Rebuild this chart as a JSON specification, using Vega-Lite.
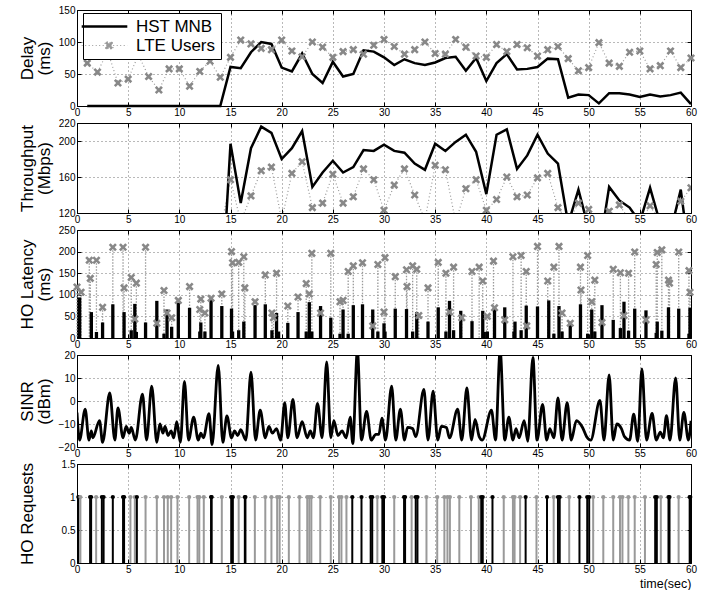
{
  "$schema": "https://vega.github.io/schema/vega-lite/v6.json",
  "background": "white",
  "padding": {"left": 17, "top": 4, "right": 5, "bottom": 0},
  "spacing": 17,
  "bounds": "flush",
  "config": {
    "font": "Liberation Sans",
    "view": {"stroke": "#000", "strokeWidth": 1},
    "axis": {"domain": false, "labelFont": "Liberation Sans", "labelFontSize": 10, "labelColor": "#000", "labelFlush": false, "labelOverlap": false, "tickColor": "#000", "tickSize": -4, "tickWidth": 1, "gridColor": "#000", "gridDash": [1, 3], "gridOpacity": 0.55, "gridWidth": 1, "titleFont": "Liberation Sans", "titleFontSize": 17, "titleFontWeight": "normal", "titleColor": "#000", "titleLineHeight": 17},
    "axisX": {"labelPadding": 5},
    "axisY": {"labelPadding": 6}
  },
  "datasets": {
    "delay": [
      {"t":1,"v":0,"s":"H"},{"t":2,"v":0,"s":"H"},{"t":3,"v":0,"s":"H"},{"t":4,"v":0,"s":"H"},{"t":5,"v":0,"s":"H"},{"t":6,"v":0,"s":"H"},{"t":7,"v":0,"s":"H"},{"t":8,"v":0,"s":"H"},{"t":9,"v":0,"s":"H"},{"t":10,"v":0,"s":"H"},{"t":11,"v":0,"s":"H"},{"t":12,"v":0,"s":"H"},{"t":13,"v":0,"s":"H"},{"t":14,"v":0,"s":"H"},
      {"t":15,"v":61,"s":"H"},{"t":16,"v":59,"s":"H"},{"t":17,"v":84,"s":"H"},{"t":18,"v":100,"s":"H"},{"t":19,"v":97,"s":"H"},{"t":20,"v":60,"s":"H"},{"t":21,"v":54,"s":"H"},{"t":22,"v":82,"s":"H"},{"t":23,"v":50,"s":"H"},{"t":24,"v":36,"s":"H"},{"t":25,"v":69,"s":"H"},{"t":26,"v":46,"s":"H"},{"t":27,"v":50,"s":"H"},{"t":28,"v":87,"s":"H"},{"t":29,"v":85,"s":"H"},{"t":30,"v":76,"s":"H"},{"t":31,"v":64,"s":"H"},{"t":32,"v":73,"s":"H"},{"t":33,"v":67,"s":"H"},{"t":34,"v":64,"s":"H"},{"t":35,"v":68,"s":"H"},{"t":36,"v":75,"s":"H"},{"t":37,"v":77,"s":"H"},{"t":38,"v":55,"s":"H"},{"t":39,"v":75,"s":"H"},{"t":40,"v":39,"s":"H"},{"t":41,"v":67,"s":"H"},{"t":42,"v":81,"s":"H"},{"t":43,"v":57,"s":"H"},{"t":44,"v":58,"s":"H"},{"t":45,"v":61,"s":"H"},{"t":46,"v":74,"s":"H"},{"t":47,"v":73,"s":"H"},{"t":48,"v":13,"s":"H"},{"t":49,"v":18,"s":"H"},{"t":50,"v":17,"s":"H"},{"t":51,"v":4,"s":"H"},{"t":52,"v":20,"s":"H"},{"t":53,"v":20,"s":"H"},{"t":54,"v":18,"s":"H"},{"t":55,"v":14,"s":"H"},{"t":56,"v":18,"s":"H"},{"t":57,"v":15,"s":"H"},{"t":58,"v":17,"s":"H"},{"t":59,"v":21,"s":"H"},{"t":60,"v":3,"s":"H"},
      {"t":1,"v":67,"s":"L"},{"t":2,"v":53,"s":"L"},{"t":3,"v":85,"s":"L"},{"t":4,"v":36,"s":"L"},{"t":5,"v":42,"s":"L"},{"t":6,"v":80,"s":"L"},{"t":7,"v":46,"s":"L"},{"t":8,"v":25,"s":"L"},{"t":9,"v":58,"s":"L"},{"t":10,"v":58,"s":"L"},{"t":11,"v":31,"s":"L"},{"t":12,"v":54,"s":"L"},{"t":13,"v":70,"s":"L"},{"t":14,"v":45,"s":"L"},{"t":15,"v":76,"s":"L"},{"t":16,"v":103,"s":"L"},{"t":17,"v":97,"s":"L"},{"t":18,"v":90,"s":"L"},{"t":19,"v":88,"s":"L"},{"t":20,"v":103,"s":"L"},{"t":21,"v":86,"s":"L"},{"t":22,"v":77,"s":"L"},{"t":23,"v":100,"s":"L"},{"t":24,"v":92,"s":"L"},{"t":25,"v":76,"s":"L"},{"t":26,"v":85,"s":"L"},{"t":27,"v":88,"s":"L"},{"t":28,"v":81,"s":"L"},{"t":29,"v":95,"s":"L"},{"t":30,"v":104,"s":"L"},{"t":31,"v":93,"s":"L"},{"t":32,"v":81,"s":"L"},{"t":33,"v":88,"s":"L"},{"t":34,"v":100,"s":"L"},{"t":35,"v":82,"s":"L"},{"t":36,"v":81,"s":"L"},{"t":37,"v":104,"s":"L"},{"t":38,"v":92,"s":"L"},{"t":39,"v":78,"s":"L"},{"t":40,"v":76,"s":"L"},{"t":41,"v":96,"s":"L"},{"t":42,"v":85,"s":"L"},{"t":43,"v":96,"s":"L"},{"t":44,"v":91,"s":"L"},{"t":45,"v":78,"s":"L"},{"t":46,"v":88,"s":"L"},{"t":47,"v":93,"s":"L"},{"t":48,"v":74,"s":"L"},{"t":49,"v":55,"s":"L"},{"t":50,"v":60,"s":"L"},{"t":51,"v":99,"s":"L"},{"t":52,"v":67,"s":"L"},{"t":53,"v":62,"s":"L"},{"t":54,"v":84,"s":"L"},{"t":55,"v":86,"s":"L"},{"t":56,"v":58,"s":"L"},{"t":57,"v":63,"s":"L"},{"t":58,"v":86,"s":"L"},{"t":59,"v":60,"s":"L"},{"t":60,"v":75,"s":"L"}
    ],
    "thr": [
      {"t":14,"v":0,"s":"H"},{"t":15,"v":197,"s":"H"},{"t":16,"v":131,"s":"H"},{"t":17,"v":192,"s":"H"},{"t":18,"v":216,"s":"H"},{"t":19,"v":209,"s":"H"},{"t":20,"v":180,"s":"H"},{"t":21,"v":192,"s":"H"},{"t":22,"v":211,"s":"H"},{"t":23,"v":149,"s":"H"},{"t":24,"v":165,"s":"H"},{"t":25,"v":178,"s":"H"},{"t":26,"v":165,"s":"H"},{"t":27,"v":171,"s":"H"},{"t":28,"v":190,"s":"H"},{"t":29,"v":189,"s":"H"},{"t":30,"v":196,"s":"H"},{"t":31,"v":189,"s":"H"},{"t":32,"v":187,"s":"H"},{"t":33,"v":175,"s":"H"},{"t":34,"v":168,"s":"H"},{"t":35,"v":197,"s":"H"},{"t":36,"v":189,"s":"H"},{"t":37,"v":199,"s":"H"},{"t":38,"v":207,"s":"H"},{"t":39,"v":188,"s":"H"},{"t":40,"v":141,"s":"H"},{"t":41,"v":207,"s":"H"},{"t":42,"v":213,"s":"H"},{"t":43,"v":169,"s":"H"},{"t":44,"v":184,"s":"H"},{"t":45,"v":207,"s":"H"},{"t":46,"v":186,"s":"H"},{"t":47,"v":175,"s":"H"},{"t":48,"v":108,"s":"H"},{"t":49,"v":146,"s":"H"},{"t":50,"v":102,"s":"H"},{"t":51,"v":76,"s":"H"},{"t":52,"v":149,"s":"H"},{"t":53,"v":134,"s":"H"},{"t":54,"v":126,"s":"H"},{"t":55,"v":110,"s":"H"},{"t":56,"v":148,"s":"H"},{"t":57,"v":108,"s":"H"},{"t":58,"v":99,"s":"H"},{"t":59,"v":146,"s":"H"},{"t":60,"v":59,"s":"H"},
      {"t":14,"v":100,"s":"L"},{"t":15,"v":157,"s":"L"},{"t":16,"v":110,"s":"L"},{"t":17,"v":139,"s":"L"},{"t":18,"v":167,"s":"L"},{"t":19,"v":171,"s":"L"},{"t":20,"v":112,"s":"L"},{"t":21,"v":164,"s":"L"},{"t":22,"v":177,"s":"L"},{"t":23,"v":126,"s":"L"},{"t":24,"v":131,"s":"L"},{"t":25,"v":163,"s":"L"},{"t":26,"v":131,"s":"L"},{"t":27,"v":138,"s":"L"},{"t":28,"v":169,"s":"L"},{"t":29,"v":157,"s":"L"},{"t":30,"v":123,"s":"L"},{"t":31,"v":151,"s":"L"},{"t":32,"v":169,"s":"L"},{"t":33,"v":140,"s":"L"},{"t":34,"v":112,"s":"L"},{"t":35,"v":173,"s":"L"},{"t":36,"v":168,"s":"L"},{"t":37,"v":110,"s":"L"},{"t":38,"v":147,"s":"L"},{"t":39,"v":157,"s":"L"},{"t":40,"v":123,"s":"L"},{"t":41,"v":135,"s":"L"},{"t":42,"v":160,"s":"L"},{"t":43,"v":138,"s":"L"},{"t":44,"v":140,"s":"L"},{"t":45,"v":159,"s":"L"},{"t":46,"v":164,"s":"L"},{"t":47,"v":126,"s":"L"},{"t":48,"v":110,"s":"L"},{"t":49,"v":131,"s":"L"},{"t":50,"v":124,"s":"L"},{"t":51,"v":110,"s":"L"},{"t":52,"v":122,"s":"L"},{"t":53,"v":129,"s":"L"},{"t":54,"v":112,"s":"L"},{"t":55,"v":108,"s":"L"},{"t":56,"v":128,"s":"L"},{"t":57,"v":110,"s":"L"},{"t":58,"v":112,"s":"L"},{"t":59,"v":133,"s":"L"},{"t":60,"v":148,"s":"L"}
    ],
    "lat": [
      {"t":0.26,"v":94,"s":"B"},{"t":1.4,"v":60,"s":"B"},{"t":1.9,"v":14,"s":"B"},{"t":2.5,"v":36,"s":"B"},{"t":3.5,"v":78,"s":"B"},{"t":4.6,"v":60,"s":"B"},{"t":5.3,"v":18,"s":"B"},{"t":5.65,"v":79,"s":"B"},{"t":5.8,"v":14,"s":"B"},{"t":6.7,"v":36,"s":"B"},{"t":7.8,"v":86,"s":"B"},{"t":8.5,"v":10,"s":"B"},{"t":8.8,"v":66,"s":"B"},{"t":9.25,"v":26,"s":"B"},{"t":9.9,"v":82,"s":"B"},{"t":11.0,"v":70,"s":"B"},{"t":12.0,"v":15,"s":"B"},{"t":12.1,"v":36,"s":"B"},{"t":12.5,"v":15,"s":"B"},{"t":13.1,"v":92,"s":"B"},{"t":14.15,"v":74,"s":"B"},{"t":15.1,"v":68,"s":"B"},{"t":15.2,"v":15,"s":"B"},{"t":15.8,"v":18,"s":"B"},{"t":16.3,"v":38,"s":"B"},{"t":17.4,"v":76,"s":"B"},{"t":18.4,"v":78,"s":"B"},{"t":19.05,"v":18,"s":"B"},{"t":19.5,"v":58,"s":"B"},{"t":19.7,"v":15,"s":"B"},{"t":20.6,"v":35,"s":"B"},{"t":21.6,"v":60,"s":"B"},{"t":22.4,"v":15,"s":"B"},{"t":22.7,"v":83,"s":"B"},{"t":22.95,"v":15,"s":"B"},{"t":23.8,"v":74,"s":"B"},{"t":24.8,"v":47,"s":"B"},{"t":25.7,"v":10,"s":"B"},{"t":26.0,"v":66,"s":"B"},{"t":26.5,"v":10,"s":"B"},{"t":27.0,"v":76,"s":"B"},{"t":27.9,"v":78,"s":"B"},{"t":28.9,"v":66,"s":"B"},{"t":29.4,"v":15,"s":"B"},{"t":30.0,"v":34,"s":"B"},{"t":30.1,"v":15,"s":"B"},{"t":31.1,"v":68,"s":"B"},{"t":32.2,"v":67,"s":"B"},{"t":32.8,"v":15,"s":"B"},{"t":33.2,"v":60,"s":"B"},{"t":34.3,"v":38,"s":"B"},{"t":35.3,"v":71,"s":"B"},{"t":36.05,"v":15,"s":"B"},{"t":36.4,"v":86,"s":"B"},{"t":36.8,"v":18,"s":"B"},{"t":37.5,"v":63,"s":"B"},{"t":38.6,"v":39,"s":"B"},{"t":39.65,"v":63,"s":"B"},{"t":39.8,"v":14,"s":"B"},{"t":40.1,"v":15,"s":"B"},{"t":40.8,"v":71,"s":"B"},{"t":41.8,"v":71,"s":"B"},{"t":42.7,"v":15,"s":"B"},{"t":42.8,"v":38,"s":"B"},{"t":43.4,"v":18,"s":"B"},{"t":43.9,"v":75,"s":"B"},{"t":45.0,"v":73,"s":"B"},{"t":46.1,"v":87,"s":"B"},{"t":46.6,"v":10,"s":"B"},{"t":47.1,"v":74,"s":"B"},{"t":47.4,"v":15,"s":"B"},{"t":48.2,"v":38,"s":"B"},{"t":49.2,"v":78,"s":"B"},{"t":49.9,"v":10,"s":"B"},{"t":50.3,"v":66,"s":"B"},{"t":50.6,"v":15,"s":"B"},{"t":51.3,"v":76,"s":"B"},{"t":52.4,"v":42,"s":"B"},{"t":53.1,"v":23,"s":"B"},{"t":53.45,"v":84,"s":"B"},{"t":53.9,"v":17,"s":"B"},{"t":54.5,"v":68,"s":"B"},{"t":55.6,"v":64,"s":"B"},{"t":56.6,"v":12,"s":"B"},{"t":56.7,"v":38,"s":"B"},{"t":57.15,"v":17,"s":"B"},{"t":57.8,"v":71,"s":"B"},{"t":58.8,"v":68,"s":"B"},{"t":59.8,"v":10,"s":"B"},{"t":59.9,"v":70,"s":"B"},
      {"t":0.0,"v":118,"s":"G"},{"t":0.4,"v":106,"s":"G"},{"t":1.2,"v":180,"s":"G"},{"t":1.3,"v":138,"s":"G"},{"t":1.9,"v":180,"s":"G"},{"t":2.5,"v":71,"s":"G"},{"t":3.5,"v":210,"s":"G"},{"t":4.5,"v":210,"s":"G"},{"t":4.6,"v":116,"s":"G"},{"t":5.3,"v":140,"s":"G"},{"t":5.65,"v":44,"s":"G"},{"t":5.8,"v":127,"s":"G"},{"t":6.7,"v":210,"s":"G"},{"t":7.8,"v":34,"s":"G"},{"t":8.5,"v":110,"s":"G"},{"t":8.8,"v":58,"s":"G"},{"t":9.25,"v":47,"s":"G"},{"t":9.9,"v":87,"s":"G"},{"t":11.0,"v":119,"s":"G"},{"t":12.0,"v":66,"s":"G"},{"t":12.1,"v":90,"s":"G"},{"t":12.5,"v":58,"s":"G"},{"t":13.1,"v":92,"s":"G"},{"t":14.15,"v":102,"s":"G"},{"t":15.1,"v":200,"s":"G"},{"t":15.2,"v":174,"s":"G"},{"t":15.8,"v":175,"s":"G"},{"t":16.3,"v":188,"s":"G"},{"t":16.4,"v":116,"s":"G"},{"t":17.4,"v":84,"s":"G"},{"t":18.4,"v":146,"s":"G"},{"t":19.05,"v":58,"s":"G"},{"t":19.2,"v":47,"s":"G"},{"t":19.5,"v":150,"s":"G"},{"t":20.6,"v":74,"s":"G"},{"t":21.6,"v":95,"s":"G"},{"t":22.4,"v":126,"s":"G"},{"t":22.7,"v":102,"s":"G"},{"t":22.95,"v":196,"s":"G"},{"t":23.8,"v":58,"s":"G"},{"t":24.8,"v":196,"s":"G"},{"t":25.7,"v":84,"s":"G"},{"t":26.0,"v":87,"s":"G"},{"t":26.5,"v":154,"s":"G"},{"t":27.0,"v":167,"s":"G"},{"t":27.9,"v":174,"s":"G"},{"t":28.9,"v":28,"s":"G"},{"t":29.4,"v":170,"s":"G"},{"t":30.0,"v":60,"s":"G"},{"t":30.1,"v":186,"s":"G"},{"t":31.1,"v":142,"s":"G"},{"t":32.2,"v":158,"s":"G"},{"t":32.25,"v":119,"s":"G"},{"t":32.8,"v":167,"s":"G"},{"t":33.2,"v":159,"s":"G"},{"t":33.4,"v":52,"s":"G"},{"t":34.3,"v":116,"s":"G"},{"t":35.3,"v":175,"s":"G"},{"t":36.05,"v":150,"s":"G"},{"t":36.4,"v":60,"s":"G"},{"t":36.8,"v":164,"s":"G"},{"t":37.6,"v":47,"s":"G"},{"t":38.6,"v":154,"s":"G"},{"t":39.3,"v":164,"s":"G"},{"t":39.65,"v":132,"s":"G"},{"t":40.1,"v":50,"s":"G"},{"t":40.7,"v":178,"s":"G"},{"t":40.8,"v":70,"s":"G"},{"t":41.8,"v":42,"s":"G"},{"t":42.6,"v":188,"s":"G"},{"t":43.4,"v":191,"s":"G"},{"t":43.9,"v":154,"s":"G"},{"t":43.95,"v":28,"s":"G"},{"t":45.0,"v":212,"s":"G"},{"t":46.0,"v":132,"s":"G"},{"t":46.6,"v":164,"s":"G"},{"t":47.1,"v":212,"s":"G"},{"t":47.4,"v":58,"s":"G"},{"t":48.2,"v":34,"s":"G"},{"t":49.2,"v":164,"s":"G"},{"t":49.25,"v":111,"s":"G"},{"t":49.9,"v":191,"s":"G"},{"t":50.3,"v":84,"s":"G"},{"t":50.6,"v":134,"s":"G"},{"t":51.3,"v":36,"s":"G"},{"t":52.4,"v":159,"s":"G"},{"t":53.1,"v":151,"s":"G"},{"t":53.45,"v":52,"s":"G"},{"t":53.9,"v":150,"s":"G"},{"t":54.5,"v":199,"s":"G"},{"t":55.6,"v":42,"s":"G"},{"t":56.6,"v":170,"s":"G"},{"t":56.7,"v":198,"s":"G"},{"t":57.15,"v":204,"s":"G"},{"t":57.8,"v":134,"s":"G"},{"t":57.9,"v":127,"s":"G"},{"t":58.8,"v":199,"s":"G"},{"t":59.8,"v":156,"s":"G"},{"t":59.9,"v":106,"s":"G"}
    ],
    "sinr": [
      {"t":0,"v":-5},{"t":0.25,"v":-17},{"t":0.8,"v":-3.5},{"t":1.17,"v":-17},{"t":1.4,"v":-13},{"t":1.55,"v":-16},{"t":2.2,"v":-8.5},{"t":2.5,"v":-18},{"t":3.2,"v":3.5},{"t":3.7,"v":-17},{"t":4.0,"v":-3},{"t":4.5,"v":-16},{"t":4.8,"v":-11},{"t":5.1,"v":-14},{"t":5.3,"v":-11.5},{"t":5.7,"v":-17},{"t":6.4,"v":3},{"t":6.8,"v":-17},{"t":7.3,"v":6.5},{"t":7.8,"v":-18},{"t":8.1,"v":-10},{"t":8.4,"v":-14},{"t":8.6,"v":-11},{"t":8.9,"v":-15},{"t":9.2,"v":-13},{"t":9.45,"v":-16},{"t":9.75,"v":-9},{"t":10.1,"v":-18},{"t":10.5,"v":8.5},{"t":10.9,"v":-17},{"t":11.4,"v":-7},{"t":11.85,"v":-17},{"t":12.1,"v":-14},{"t":12.35,"v":-16},{"t":12.9,"v":-5.5},{"t":13.2,"v":-19},{"t":13.8,"v":15.5},{"t":14.25,"v":-18},{"t":14.65,"v":-6.5},{"t":15.1,"v":-16},{"t":15.4,"v":-13},{"t":15.7,"v":-15},{"t":16.0,"v":-12.5},{"t":16.5,"v":-17},{"t":17.0,"v":12.5},{"t":17.45,"v":-17},{"t":17.9,"v":-4},{"t":18.4,"v":-16},{"t":18.75,"v":-11},{"t":19.1,"v":-14},{"t":19.5,"v":-12},{"t":19.9,"v":-17},{"t":20.3,"v":-0.7},{"t":20.6,"v":-16},{"t":21.1,"v":0.7},{"t":21.5,"v":-16},{"t":22.0,"v":-9},{"t":22.5,"v":-16},{"t":22.8,"v":-13},{"t":23.1,"v":-16},{"t":23.5,"v":-1},{"t":23.95,"v":-16},{"t":24.4,"v":17},{"t":24.8,"v":-16},{"t":25.1,"v":-8.5},{"t":25.5,"v":-15},{"t":25.9,"v":-13},{"t":26.3,"v":-16},{"t":26.7,"v":-7},{"t":26.95,"v":-18.5},{"t":27.4,"v":22},{"t":27.8,"v":-17},{"t":28.3,"v":-4.5},{"t":28.75,"v":-17},{"t":29.2,"v":-14.5},{"t":29.5,"v":-14.5},{"t":29.8,"v":-7.5},{"t":30.15,"v":-17},{"t":30.75,"v":6.5},{"t":31.15,"v":-17},{"t":31.6,"v":-3.5},{"t":32.0,"v":-17},{"t":32.3,"v":-11.5},{"t":32.8,"v":-12},{"t":33.1,"v":-15.5},{"t":33.9,"v":5},{"t":34.3,"v":-17},{"t":34.8,"v":4.3},{"t":35.25,"v":-17},{"t":35.6,"v":-11},{"t":36.1,"v":-11.5},{"t":36.4,"v":-16},{"t":37.2,"v":-3.5},{"t":37.6,"v":-17},{"t":38.1,"v":5.7},{"t":38.55,"v":-17},{"t":38.9,"v":-8},{"t":39.3,"v":-15.5},{"t":39.6,"v":-17},{"t":40.5,"v":-4},{"t":40.9,"v":-17},{"t":41.35,"v":22},{"t":41.8,"v":-17},{"t":42.2,"v":-7},{"t":42.6,"v":-17},{"t":42.9,"v":-12},{"t":43.2,"v":-16},{"t":43.7,"v":-8.5},{"t":44.05,"v":-17.5},{"t":44.55,"v":19},{"t":44.95,"v":-17},{"t":45.5,"v":-1.5},{"t":45.9,"v":-17},{"t":46.2,"v":-12},{"t":46.6,"v":-16},{"t":47.0,"v":1.4},{"t":47.4,"v":-17},{"t":47.9,"v":-0.7},{"t":48.3,"v":-17},{"t":48.8,"v":-8.5},{"t":49.4,"v":-11.5},{"t":49.8,"v":-15.5},{"t":50.2,"v":-17},{"t":51.1,"v":0.3},{"t":51.5,"v":-17},{"t":52.0,"v":11.4},{"t":52.4,"v":-17},{"t":52.75,"v":-10},{"t":53.2,"v":-12},{"t":53.5,"v":-15.5},{"t":54.0,"v":-17},{"t":54.4,"v":-5.7},{"t":54.8,"v":-17.5},{"t":55.2,"v":14},{"t":55.65,"v":-17},{"t":56.2,"v":-5.4},{"t":56.6,"v":-17},{"t":57.0,"v":-13.5},{"t":57.3,"v":-16},{"t":57.6,"v":-6.4},{"t":57.95,"v":-17},{"t":58.5,"v":10},{"t":58.9,"v":-17},{"t":59.3,"v":-5},{"t":59.75,"v":-17},{"t":60,"v":-8.6}
    ],
    "req": [
      {"t":0.13,"s":"B","v":1},{"t":0.33,"s":"G","v":1},{"t":1.28,"s":"B","v":1},{"t":1.38,"s":"B","v":1},{"t":1.87,"s":"G","v":1},{"t":2.43,"s":"B","v":1},{"t":2.6,"s":"B","v":1},{"t":3.5,"s":"B","v":1},{"t":4.5,"s":"B","v":1},{"t":4.6,"s":"B","v":1},{"t":5.22,"s":"G","v":1},{"t":5.65,"s":"G","v":1},{"t":5.85,"s":"B","v":1},{"t":6.7,"s":"G","v":1},{"t":7.8,"s":"G","v":1},{"t":8.5,"s":"G","v":1},{"t":8.87,"s":"G","v":1},{"t":9.2,"s":"G","v":1},{"t":9.82,"s":"G","v":1},{"t":10.96,"s":"G","v":1},{"t":11.78,"s":"G","v":1},{"t":11.95,"s":"G","v":1},{"t":12.39,"s":"G","v":1},{"t":13.1,"s":"B","v":1},{"t":13.16,"s":"B","v":1},{"t":14.15,"s":"G","v":1},{"t":15.07,"s":"B","v":1},{"t":15.23,"s":"B","v":1},{"t":15.8,"s":"G","v":1},{"t":16.4,"s":"B","v":1},{"t":16.46,"s":"B","v":1},{"t":17.38,"s":"G","v":1},{"t":18.4,"s":"G","v":1},{"t":19.0,"s":"G","v":1},{"t":19.56,"s":"G","v":1},{"t":19.8,"s":"G","v":1},{"t":20.7,"s":"G","v":1},{"t":21.74,"s":"G","v":1},{"t":22.5,"s":"G","v":1},{"t":22.7,"s":"G","v":1},{"t":22.9,"s":"G","v":1},{"t":23.77,"s":"G","v":1},{"t":24.8,"s":"G","v":1},{"t":25.6,"s":"G","v":1},{"t":25.84,"s":"G","v":1},{"t":26.33,"s":"G","v":1},{"t":26.9,"s":"B","v":1},{"t":27.8,"s":"B","v":1},{"t":28.7,"s":"B","v":1},{"t":28.85,"s":"B","v":1},{"t":29.35,"s":"G","v":1},{"t":29.84,"s":"B","v":1},{"t":30.0,"s":"B","v":1},{"t":31.0,"s":"G","v":1},{"t":31.96,"s":"B","v":1},{"t":32.06,"s":"B","v":1},{"t":32.7,"s":"G","v":1},{"t":33.1,"s":"B","v":1},{"t":33.27,"s":"B","v":1},{"t":34.15,"s":"G","v":1},{"t":35.2,"s":"G","v":1},{"t":35.9,"s":"G","v":1},{"t":36.2,"s":"G","v":1},{"t":36.44,"s":"G","v":1},{"t":37.36,"s":"G","v":1},{"t":38.5,"s":"G","v":1},{"t":39.26,"s":"G","v":1},{"t":39.5,"s":"B","v":1},{"t":39.65,"s":"B","v":1},{"t":40.6,"s":"B","v":1},{"t":41.7,"s":"G","v":1},{"t":42.6,"s":"G","v":1},{"t":42.76,"s":"G","v":1},{"t":43.3,"s":"G","v":1},{"t":43.84,"s":"B","v":1},{"t":44.9,"s":"G","v":1},{"t":45.93,"s":"B","v":1},{"t":46.58,"s":"G","v":1},{"t":47.0,"s":"B","v":1},{"t":47.17,"s":"B","v":1},{"t":48.1,"s":"G","v":1},{"t":49.1,"s":"B","v":1},{"t":49.86,"s":"B","v":1},{"t":50.05,"s":"B","v":1},{"t":50.44,"s":"G","v":1},{"t":51.43,"s":"G","v":1},{"t":52.4,"s":"G","v":1},{"t":53.06,"s":"G","v":1},{"t":53.3,"s":"G","v":1},{"t":53.88,"s":"G","v":1},{"t":54.5,"s":"G","v":1},{"t":55.5,"s":"G","v":1},{"t":56.5,"s":"B","v":1},{"t":56.66,"s":"B","v":1},{"t":57.05,"s":"G","v":1},{"t":57.8,"s":"B","v":1},{"t":57.9,"s":"B","v":1},{"t":58.79,"s":"G","v":1},{"t":59.87,"s":"B","v":1},{"t":59.93,"s":"B","v":1}
    ]
  },
  "vconcat": [
    {
      "width": 614, "height": 96,
      "data": {"name": "delay"},
      "resolve": {"axis": {"x": "independent", "y": "independent"}},
      "layer": [
        {
          "encoding": {
            "x": {"field": "t", "type": "quantitative", "scale": {"domain": [0, 60], "nice": false, "zero": false}, "axis": {"values": [0,5,10,15,20,25,30,35,40,45,50,55,60], "title": null}},
            "y": {"field": "v", "type": "quantitative", "scale": {"domain": [0, 150], "nice": false}, "axis": {"values": [0,50,100,150], "format": "d", "title": ["Delay", "(ms)"], "titleX": -41, "titleY": 48, "titleAlign": "center", "titleBaseline": "bottom"}}
          },
          "layer": [
            {"transform": [{"filter": "datum.s === 'L'"}], "mark": {"type": "line", "strokeWidth": 1.2, "strokeDash": [1, 2.5]},
             "encoding": {"color": {"field": "s", "type": "nominal", "scale": {"domain": ["H", "L"], "range": ["#000000", "#999999"]},
               "legend": {"values": ["H", "L"], "title": null, "orient": "none", "legendX": 6, "legendY": 3, "labelExpr": "datum.value === 'H' ? 'HST MNB' : 'LTE Users'", "fillColor": "#ffffff", "strokeColor": "#000000", "padding": 5, "labelFont": "Liberation Sans", "labelFontSize": 17, "labelColor": "#000000", "symbolSize": 130, "symbolOffset": 8, "labelOffset": 23, "rowPadding": 1, "columnPadding": 0,
                 "encode": {"symbols": {"update": {
                   "shape": {"signal": "datum.value === 'H' ? 'M-4,0L4,0' : 'M-4,0L4,0M0.425,-0.686L0.8,-0.311L1.175,-0.686L1.486,-0.375L1.111,0L1.486,0.375L1.175,0.686L0.8,0.311L0.425,0.686L0.114,0.375L0.489,0L0.114,-0.375Z'"},
                   "stroke": {"signal": "datum.value === 'H' ? '#000000' : '#999999'"},
                   "fill": {"signal": "datum.value === 'H' ? 'transparent' : '#888888'"},
                   "strokeWidth": {"signal": "datum.value === 'H' ? 2.5 : 1.2"},
                   "strokeDash": {"signal": "datum.value === 'H' ? [1, 0] : [1, 2.5]"},
                   "opacity": {"value": 1}
                 }}}}}}},
            {"transform": [{"filter": "datum.s === 'H'"}], "mark": {"type": "line", "strokeWidth": 2.5},
             "encoding": {"color": {"field": "s", "type": "nominal"}}},
            {"transform": [{"filter": "datum.s === 'L'"}], "mark": {"type": "point", "shape": "M-0.375,-0.686L0,-0.311L0.375,-0.686L0.686,-0.375L0.311,0L0.686,0.375L0.375,0.686L0,0.311L-0.375,0.686L-0.686,0.375L-0.311,0L-0.686,-0.375Z", "filled": true, "size": 140, "color": "#888888", "opacity": 1}}
          ]
        },
        {"mark": {"type": "point", "opacity": 0}, "encoding": {
          "x": {"field": "t", "type": "quantitative", "axis": {"orient": "top", "labels": false, "grid": false, "title": null, "values": [0,5,10,15,20,25,30,35,40,45,50,55,60]}},
          "y": {"field": "v", "type": "quantitative", "axis": {"orient": "right", "labels": false, "grid": false, "title": null, "values": [0,50,100,150]}}}}
      ]
    },
    {
      "width": 614, "height": 90,
      "data": {"name": "thr"},
      "resolve": {"axis": {"x": "independent", "y": "independent"}},
      "layer": [
        {
          "encoding": {
            "x": {"field": "t", "type": "quantitative", "scale": {"domain": [0, 60], "nice": false, "zero": false}, "axis": {"values": [0,5,10,15,20,25,30,35,40,45,50,55,60], "title": null}},
            "y": {"field": "v", "type": "quantitative", "scale": {"domain": [120, 220], "nice": false, "zero": false}, "axis": {"values": [120,160,200,220], "format": "d", "title": ["Throughput", "(Mbps)"], "titleX": -41, "titleY": 45, "titleAlign": "center", "titleBaseline": "bottom"}}
          },
          "layer": [
            {"transform": [{"filter": "datum.s === 'L'"}], "mark": {"type": "line", "strokeWidth": 1.2, "strokeDash": [1, 2.5], "color": "#999999", "clip": true}},
            {"transform": [{"filter": "datum.s === 'H'"}], "mark": {"type": "line", "strokeWidth": 2.5, "color": "#000000", "clip": true}},
            {"transform": [{"filter": "datum.s === 'L'"}], "mark": {"type": "point", "shape": "M-0.375,-0.686L0,-0.311L0.375,-0.686L0.686,-0.375L0.311,0L0.686,0.375L0.375,0.686L0,0.311L-0.375,0.686L-0.686,0.375L-0.311,0L-0.686,-0.375Z", "filled": true, "size": 140, "color": "#888888", "opacity": 1, "clip": true}}
          ]
        },
        {"mark": {"type": "point", "opacity": 0, "clip": true}, "encoding": {
          "x": {"field": "t", "type": "quantitative", "axis": {"orient": "top", "labels": false, "grid": false, "title": null, "values": [0,5,10,15,20,25,30,35,40,45,50,55,60]}},
          "y": {"field": "v", "type": "quantitative", "axis": {"orient": "right", "labels": false, "grid": false, "title": null, "values": [120,160,200,220]}}}}
      ]
    },
    {
      "width": 614, "height": 108,
      "data": {"name": "lat"},
      "resolve": {"axis": {"x": "independent", "y": "independent"}},
      "layer": [
        {
          "encoding": {
            "x": {"field": "t", "type": "quantitative", "scale": {"domain": [0, 60], "nice": false, "zero": false}, "axis": {"values": [0,5,10,15,20,25,30,35,40,45,50,55,60], "title": null}},
            "y": {"field": "v", "type": "quantitative", "scale": {"domain": [0, 250], "nice": false}, "axis": {"values": [0,50,100,150,200,250], "format": "d", "title": ["HO Latency", "(ms)"], "titleX": -41, "titleY": 54, "titleAlign": "center", "titleBaseline": "bottom"}}
          },
          "layer": [
            {"transform": [{"filter": "datum.s === 'G'"}], "mark": {"type": "rule", "color": "#9a9a9a", "strokeWidth": 1.3, "strokeDash": [1.5, 1.5]}, "encoding": {"y2": {"datum": 0}}},
            {"transform": [{"filter": "datum.s === 'B'"}], "mark": {"type": "rule", "color": "#000000", "strokeWidth": 3.3}, "encoding": {"y2": {"datum": 0}}},
            {"data": {"values": [{}]}, "mark": {"type": "rule", "color": "#808080", "strokeWidth": 4}, "encoding": {"x": {"datum": 0}, "x2": {"datum": 60}, "y": {"datum": 2}}},
            {"transform": [{"filter": "datum.s === 'G'"}], "mark": {"type": "point", "shape": "M-0.375,-0.686L0,-0.311L0.375,-0.686L0.686,-0.375L0.311,0L0.686,0.375L0.375,0.686L0,0.311L-0.375,0.686L-0.686,0.375L-0.311,0L-0.686,-0.375Z", "filled": true, "size": 140, "color": "#888888", "opacity": 1}}
          ]
        },
        {"mark": {"type": "point", "opacity": 0}, "encoding": {
          "x": {"field": "t", "type": "quantitative", "axis": {"orient": "top", "labels": false, "grid": false, "title": null, "values": [0,5,10,15,20,25,30,35,40,45,50,55,60]}},
          "y": {"field": "v", "type": "quantitative", "axis": {"orient": "right", "labels": false, "grid": false, "title": null, "values": [0,50,100,150,200,250]}}}}
      ]
    },
    {
      "width": 614, "height": 92,
      "data": {"name": "sinr"},
      "resolve": {"axis": {"x": "independent", "y": "independent"}},
      "layer": [
        {
          "encoding": {
            "x": {"field": "t", "type": "quantitative", "scale": {"domain": [0, 60], "nice": false, "zero": false}, "axis": {"values": [0,5,10,15,20,25,30,35,40,45,50,55,60], "title": null}},
            "y": {"field": "v", "type": "quantitative", "scale": {"domain": [-20, 20], "nice": false, "zero": false}, "axis": {"values": [-20,-10,0,10,20], "format": "d", "title": ["SINR", "(dBm)"], "titleX": -41, "titleY": 46, "titleAlign": "center", "titleBaseline": "bottom"}}
          },
          "layer": [
            {"mark": {"type": "line", "color": "#000000", "strokeWidth": 2.8, "interpolate": "monotone", "clip": true}}
          ]
        },
        {"mark": {"type": "point", "opacity": 0, "clip": true}, "encoding": {
          "x": {"field": "t", "type": "quantitative", "axis": {"orient": "top", "labels": false, "grid": false, "title": null, "values": [0,5,10,15,20,25,30,35,40,45,50,55,60]}},
          "y": {"field": "v", "type": "quantitative", "axis": {"orient": "right", "labels": false, "grid": false, "title": null, "values": [-20,-10,0,10,20]}}}}
      ]
    },
    {
      "width": 614, "height": 99,
      "data": {"name": "req"},
      "resolve": {"axis": {"x": "independent", "y": "independent"}},
      "layer": [
        {
          "encoding": {
            "x": {"field": "t", "type": "quantitative", "scale": {"domain": [0, 60], "nice": false, "zero": false}, "axis": {"values": [0,5,10,15,20,25,30,35,40,45,50,55,60], "title": "time(sec)", "titleAnchor": "end", "titleFontSize": 12.5, "titlePadding": 3}},
            "y": {"field": "v", "type": "quantitative", "scale": {"domain": [0, 1.5], "nice": false}, "axis": {"values": [0,0.5,1,1.5], "format": "~g", "title": "HO Requests", "titleX": -41, "titleY": 49.5, "titleAlign": "center", "titleBaseline": "bottom"}}
          },
          "layer": [
            {"mark": {"type": "rule", "strokeWidth": 2}, "encoding": {"y2": {"datum": 0}, "color": {"field": "s", "type": "nominal", "scale": {"domain": ["B", "G"], "range": ["#000000", "#444444"]}, "legend": null}}},
            {"mark": {"type": "point", "shape": "circle", "filled": true, "size": 18, "opacity": 1}, "encoding": {"color": {"field": "s", "type": "nominal", "legend": null}}},
            {"data": {"values": [{}]}, "mark": {"type": "rule", "color": "#000000", "strokeWidth": 3.5}, "encoding": {"x": {"datum": 0}, "x2": {"datum": 60}, "y": {"datum": 0}}}
          ]
        },
        {"mark": {"type": "point", "opacity": 0}, "encoding": {
          "x": {"field": "t", "type": "quantitative", "axis": {"orient": "top", "labels": false, "grid": false, "title": null, "values": [0,5,10,15,20,25,30,35,40,45,50,55,60]}},
          "y": {"field": "v", "type": "quantitative", "axis": {"orient": "right", "labels": false, "grid": false, "title": null, "values": [0,0.5,1,1.5]}}}}
      ]
    }
  ]
}
